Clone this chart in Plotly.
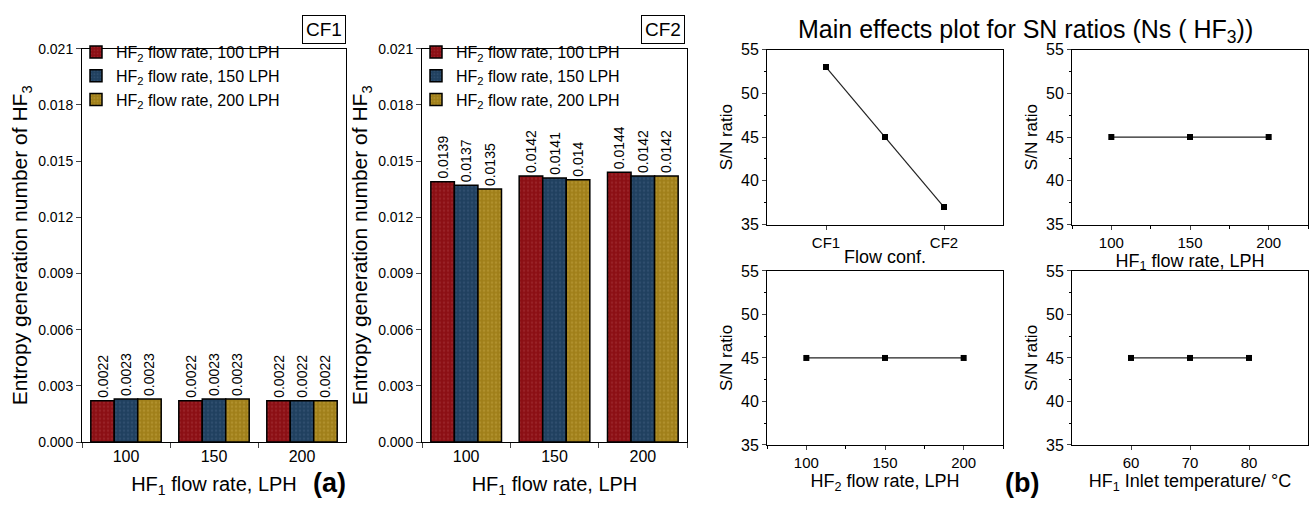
import plotly.graph_objects as go

# ---------------- data ----------------
hf1_cats = ["100", "150", "200"]
series_names = ["HF<sub>2</sub> flow rate, 100 LPH",
                "HF<sub>2</sub> flow rate, 150 LPH",
                "HF<sub>2</sub> flow rate, 200 LPH"]
cf1_100 = [0.0022, 0.0022, 0.0022]
cf1_150 = [0.0023, 0.0023, 0.0022]
cf1_200 = [0.0023, 0.0023, 0.0022]
cf2_100 = [0.0139, 0.0142, 0.0144]
cf2_150 = [0.0137, 0.0141, 0.0142]
cf2_200 = [0.0135, 0.0140, 0.0142]

flow_conf_x = [1, 1.5, 2]
sn_flow_conf = [53, 45, 37]
hf1_levels = [100, 150, 200]
sn_hf1 = [45, 45, 45]
hf2_levels = [100, 150, 200]
sn_hf2 = [45, 45, 45]
temp_levels = [60, 70, 80]
sn_temp = [45, 45, 45]

bar_colors = ["#8b0f14", "#20405f", "#a07f1a"]
dot_colors = ["#a3343a", "#3d5c7c", "#bfa040"]

W, H = 1310, 511
FONT = "Liberation Sans, Arial, sans-serif"

def px_x(x):
    return x / W

def px_y(y):
    return (H - y) / H

fig = go.Figure()

# ---------------- bar panels ----------------
panels = [
    ("x", "y", [cf1_100, cf1_150, cf1_200], "legend"),
    ("x2", "y2", [cf2_100, cf2_150, cf2_200], "legend2"),
]
for xa, ya, series, leg in panels:
    for i, vals in enumerate(series):
        fig.add_trace(go.Bar(
            x=hf1_cats, y=vals, name=series_names[i],
            xaxis=xa, yaxis=ya, legend=leg,
            marker=dict(color=bar_colors[i],
                        line=dict(color="black", width=1.5),
                        pattern=dict(shape=".", fgcolor=dot_colors[i],
                                     bgcolor=bar_colors[i], size=4, solidity=0.3)),
            text=[f"{v:g}" for v in vals],
            textposition="outside", textangle=-90, constraintext="none",
            textfont=dict(size=14, color="black", family=FONT),
            cliponaxis=False,
        ))

# ---------------- main effects panels ----------------
line_panels = [
    ("x3", "y3", flow_conf_x, sn_flow_conf),
    ("x4", "y4", hf1_levels, sn_hf1),
    ("x5", "y5", hf2_levels, sn_hf2),
    ("x6", "y6", temp_levels, sn_temp),
]
for xa, ya, xs, ys in line_panels:
    fig.add_trace(go.Scatter(
        x=xs, y=ys, mode="lines+markers", xaxis=xa, yaxis=ya,
        showlegend=False,
        line=dict(color="#222222", width=1.2),
        marker=dict(symbol="square", size=6, color="black"),
    ))

# ---------------- axes ----------------
bar_x_common = dict(type="category", range=[-0.5, 2.5], tickson="boundaries",
                    ticks="outside", ticklen=5, showline=True, linecolor="black",
                    linewidth=1, mirror=True,
                    tickfont=dict(size=16, color="black", family=FONT),
                    title=dict(text="HF<sub>1</sub> flow rate, LPH",
                               font=dict(size=20, color="black", family=FONT),
                               standoff=12),
                    showgrid=False, zeroline=False)
bar_y_common = dict(range=[0, 0.021], dtick=0.003, tickformat=".3f",
                    ticks="outside", ticklen=5, showline=True, linecolor="black",
                    linewidth=1, mirror=True,
                    tickfont=dict(size=14, color="black", family=FONT),
                    title=dict(text="Entropy generation number of HF<sub>3</sub>",
                               font=dict(size=21, color="black", family=FONT),
                               standoff=4),
                    showgrid=False, zeroline=False)

fig.update_layout(
    xaxis=dict(domain=[px_x(82), px_x(346)], anchor="y", **bar_x_common),
    yaxis=dict(domain=[px_y(449), px_y(42)], anchor="x", **bar_y_common),
    xaxis2=dict(domain=[px_x(422), px_x(687)], anchor="y2", **bar_x_common),
    yaxis2=dict(domain=[px_y(449), px_y(42)], anchor="x2", **bar_y_common),
)

def line_x(domain, anchor, rng, title, tickvals, ticktext=None, minor_dtick=None, standoff=2):
    d = dict(domain=domain, anchor=anchor, range=rng, ticks="outside", ticklen=4,
             showline=True, linecolor="black", linewidth=1, mirror=True,
             showgrid=False, zeroline=False,
             tickvals=tickvals,
             tickfont=dict(size=15, color="black", family=FONT),
             title=dict(text=title, font=dict(size=18, color="black", family=FONT),
                        standoff=standoff))
    if ticktext is not None:
        d["ticktext"] = ticktext
    if minor_dtick is not None:
        d["minor"] = dict(dtick=minor_dtick, ticks="outside", ticklen=3, tickcolor="black")
    return d

def line_y(domain, anchor):
    return dict(domain=domain, anchor=anchor, range=[35, 55], dtick=5,
                ticks="outside", ticklen=4, showline=True, linecolor="black",
                linewidth=1, mirror=True, showgrid=False, zeroline=False,
                minor=dict(dtick=2.5, ticks="outside", ticklen=2, tickcolor="black"),
                tickfont=dict(size=16, color="black", family=FONT),
                title=dict(text="S/N ratio", font=dict(size=17, color="black", family=FONT),
                           standoff=4))

top_dom = [px_y(224), px_y(43)]
bot_dom = [px_y(452), px_y(272)]
left_dom = [px_x(767), px_x(1003)]
right_dom = [px_x(1072), px_x(1308)]

fig.update_layout(
    xaxis3=line_x(left_dom, "y3", [0.5, 2.5], "Flow conf.", [1, 2], ["CF1", "CF2"], standoff=0),
    yaxis3=line_y(top_dom, "x3"),
    xaxis4=line_x(right_dom, "y4", [75, 225], "HF<sub>1</sub> flow rate, LPH", [100, 150, 200], minor_dtick=25, standoff=0),
    yaxis4=line_y(top_dom, "x4"),
    xaxis5=line_x(left_dom, "y5", [75, 225], "HF<sub>2</sub> flow rate, LPH", [100, 150, 200], minor_dtick=25),
    yaxis5=line_y(bot_dom, "x5"),
    xaxis6=line_x(right_dom, "y6", [50, 90], "HF<sub>1</sub> Inlet temperature/ °C", [60, 70, 80]),
    yaxis6=line_y(bot_dom, "x6"),
)

# ---------------- legends ----------------
leg_common = dict(xanchor="left", yanchor="top", bgcolor="rgba(0,0,0,0)",
                  font=dict(size=16, color="black", family=FONT),
                  tracegroupgap=0, itemwidth=30)
fig.update_layout(
    legend=dict(x=px_x(76), y=px_y(28), **leg_common),
    legend2=dict(x=px_x(416), y=px_y(28), **leg_common),
)

# ---------------- annotations ----------------
ann = []
for txt, xr in [("CF1", 346), ("CF2", 685)]:
    ann.append(dict(text=txt, x=px_x(xr), y=px_y(7), xref="paper", yref="paper",
                    xanchor="right", yanchor="top", showarrow=False,
                    bordercolor="black", borderwidth=1, borderpad=3,
                    font=dict(size=19, color="black", family=FONT)))
ann.append(dict(text="<b>(a)</b>", x=px_x(330), y=px_y(491), xref="paper", yref="paper",
                xanchor="center", yanchor="middle", showarrow=False,
                font=dict(size=27, color="black", family=FONT)))
ann.append(dict(text="<b>(b)</b>", x=px_x(1022), y=px_y(491), xref="paper", yref="paper",
                xanchor="center", yanchor="middle", showarrow=False,
                font=dict(size=27, color="black", family=FONT)))
ann.append(dict(text="Main effects plot for SN ratios (Ns ( HF<sub>3</sub>))",
                x=px_x(1025), y=px_y(24), xref="paper", yref="paper",
                xanchor="center", yanchor="middle", showarrow=False,
                font=dict(size=25, color="black", family=FONT)))

fig.update_layout(
    width=W, height=H, margin=dict(l=0, r=0, t=0, b=0),
    paper_bgcolor="white", plot_bgcolor="white",
    barmode="group", bargap=0.2, bargroupgap=0,
    annotations=ann, font=dict(family=FONT, color="black"),
)

fig.write_html("out.html")
